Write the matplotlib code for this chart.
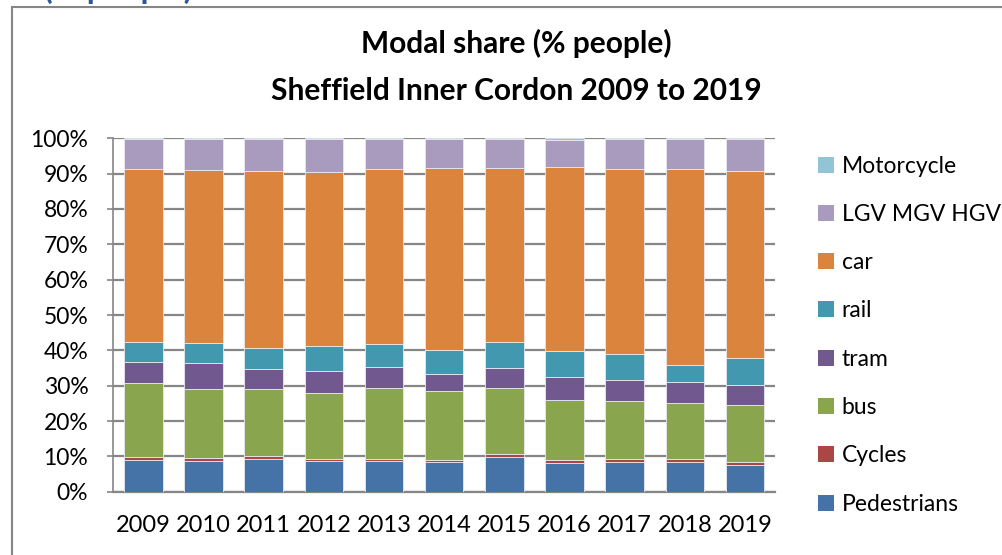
import numpy as np
import matplotlib
matplotlib.use('Agg')
import matplotlib.pyplot as plt
from matplotlib.patches import Patch, Rectangle

plt.rcParams['font.family'] = ['Lato', 'DejaVu Sans']

years = ['2009', '2010', '2011', '2012', '2013', '2014', '2015', '2016', '2017', '2018', '2019']

# modal share (%) per year, bottom to top of the stack
pedestrians = [9.1, 8.8, 9.15, 8.6, 8.6, 8.3, 9.9, 8.2, 8.5, 8.5, 7.5]
cycles = [0.6, 0.7, 0.85, 0.6, 0.7, 0.7, 0.85, 0.86, 0.8, 0.8, 1.0]
bus = [21.0, 19.7, 19.0, 18.7, 20.0, 19.5, 18.65, 17.0, 16.5, 15.7, 16.1]
tram = [6.1, 7.1, 5.8, 6.2, 5.9, 4.9, 5.6, 6.4, 5.7, 6.1, 5.7]
rail = [5.7, 5.8, 5.8, 7.0, 6.5, 6.8, 7.4, 7.5, 7.6, 4.8, 7.6]
car = [48.7, 49.0, 50.2, 49.5, 49.7, 51.5, 49.3, 52.0, 52.3, 55.4, 52.9]
lgv = [8.5, 8.6, 8.9, 9.1, 8.3, 8.0, 8.0, 7.7, 8.3, 8.4, 8.9]
motorcycle = [0.3, 0.3, 0.3, 0.3, 0.3, 0.3, 0.3, 0.3, 0.3, 0.3, 0.3]

series = [
    ('Pedestrians', pedestrians, '#4572A7'),
    ('Cycles', cycles, '#AA4643'),
    ('bus', bus, '#89A54E'),
    ('tram', tram, '#71588F'),
    ('rail', rail, '#4198AF'),
    ('car', car, '#DB843D'),
    ('LGV MGV HGV', lgv, '#A99BBD'),
    ('Motorcycle', motorcycle, '#93C4D6'),
]

fig = plt.figure(figsize=(10.03, 5.55), dpi=100)
ax = fig.add_axes([0.113, 0.114, 0.6597, 0.6368])

x = np.arange(len(years))
bottom = np.zeros(len(years))
handles = []
for name, vals, col in series:
    vals = np.array(vals)
    ax.bar(x, vals, 0.64, bottom=bottom, color=col, edgecolor='#e8e8ee',
           linewidth=0.6, zorder=3)
    bottom += vals
    handles.append(Patch(facecolor=col, label=name))

ax.set_xlim(-0.5, len(years) - 0.5)
ax.set_ylim(0, 100)
ax.set_yticks(np.arange(0, 101, 10))
ax.set_yticklabels([f'{v}%' for v in range(0, 101, 10)])
ax.set_xticks(x)
ax.set_xticklabels(years)
ax.grid(axis='y', color='#868686', linewidth=1.6, zorder=0)
for s in ['top', 'right']:
    ax.spines[s].set_visible(False)
ax.spines['left'].set_color('#868686')
ax.spines['bottom'].set_color('#868686')
ax.spines['left'].set_linewidth(1.2)
ax.spines['bottom'].set_linewidth(1.6)
ax.tick_params(axis='y', length=4, color='#868686', width=1.2, labelsize=16.5, pad=14)
ax.tick_params(axis='x', length=0, labelsize=17, pad=17)

fig.text(0.515, 0.921, 'Modal share (% people)', ha='center', va='center',
         fontsize=21.5, fontweight='bold')
fig.text(0.515, 0.836, 'Sheffield Inner Cordon 2009 to 2019', ha='center', va='center',
         fontsize=21.5, fontweight='bold')

fig.legend(handles=handles[::-1], loc='upper left', bbox_to_anchor=(0.806, 0.736),
           frameon=False, fontsize=16.5, handlelength=0.7, handleheight=0.7,
           handletextpad=0.35, labelspacing=1.19, borderaxespad=0)

# outer chart frame (cropped) and the clipped heading above it
fig.patches.append(Rectangle((12 / 1003, -0.1), 1.2, 1.1 - 7 / 555,
                             transform=fig.transFigure, fill=False,
                             edgecolor='#868686', linewidth=1.5))
fig.text(0.044, 1.002, '(% people)', ha='left', va='baseline', fontsize=23,
         fontweight='bold', color='#2F5597')

fig.savefig('out.png', dpi=100)
